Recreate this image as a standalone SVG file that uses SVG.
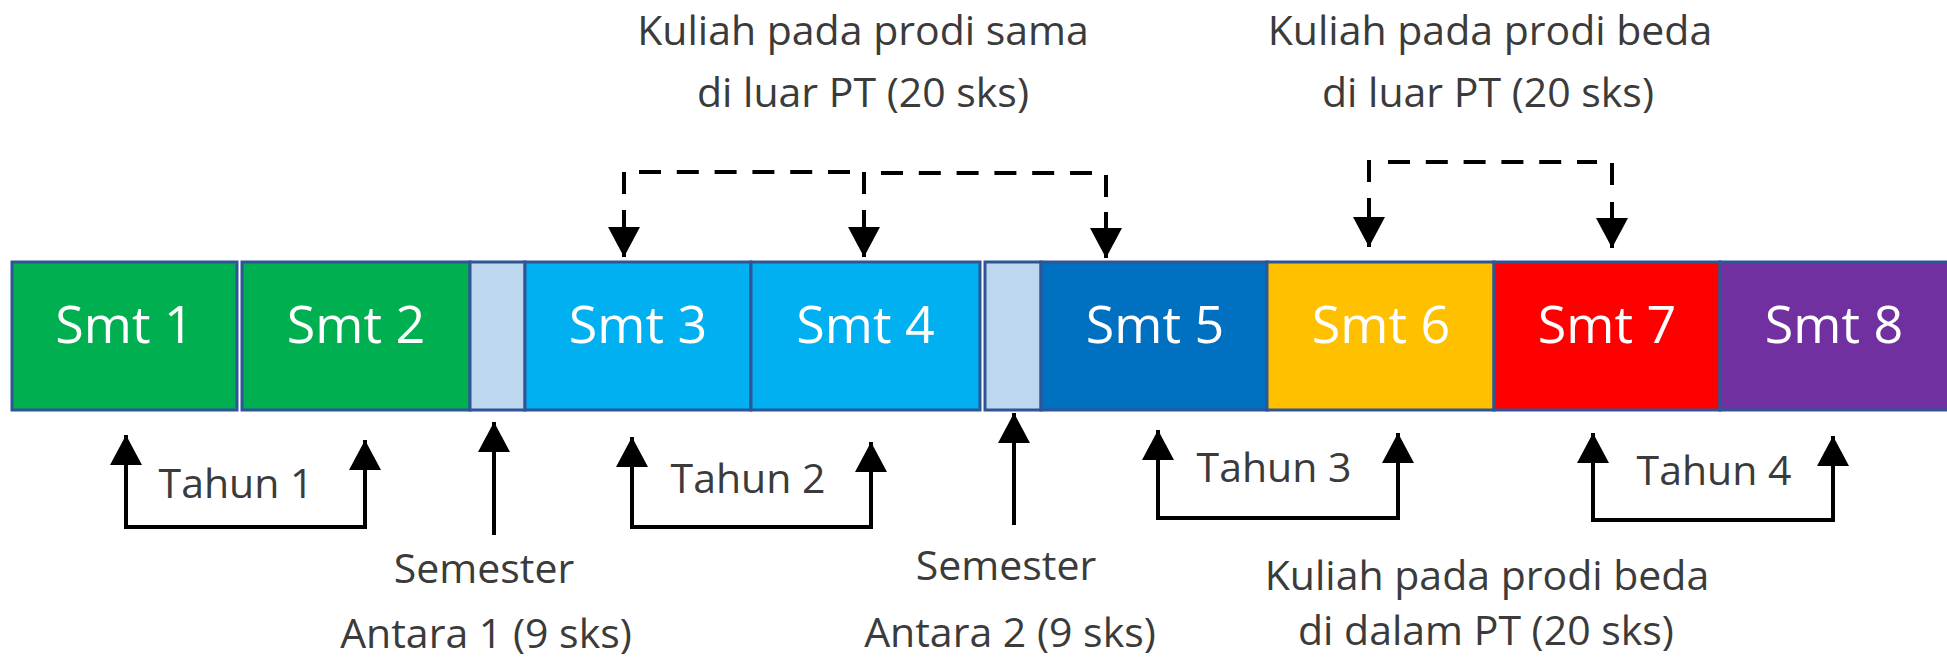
<svg xmlns="http://www.w3.org/2000/svg" width="1947" height="671" viewBox="0 0 1947 671">
<style>
.cell{stroke:#2F5597;stroke-width:3}
.smt{font-family:"Open Sans","Liberation Sans",sans-serif;font-size:52px;fill:#FFFFFF;text-anchor:middle}
.lbl{font-family:"Open Sans","Liberation Sans",sans-serif;font-size:41px;fill:#3B3B3B;text-anchor:middle}
.con{fill:none;stroke:#000;stroke-width:4}
.dash{fill:none;stroke:#000;stroke-width:4;stroke-dasharray:22 15.8}
</style>
<defs>
<marker id="ah" viewBox="0 0 30 32" markerWidth="30" markerHeight="32" refX="30" refY="16" orient="auto-start-reverse" markerUnits="userSpaceOnUse">
<path d="M0,0 L30,16 L0,32 z" fill="#000"/>
</marker>
</defs>
<rect width="1947" height="671" fill="#FFFFFF"/>

<g id="smt1"><rect class="cell" x="12" y="262" width="225" height="148" fill="#00B050"/><text class="smt" x="124.5" y="343">Smt 1</text></g>
<g id="smt2"><rect class="cell" x="242" y="262" width="228" height="148" fill="#00B050"/><text class="smt" x="356" y="343">Smt 2</text></g>
<g id="antara1"><rect class="cell" x="470" y="262" width="55" height="148" fill="#BDD7EE"/></g>
<g id="smt3"><rect class="cell" x="525" y="262" width="226" height="148" fill="#00B0F0"/><text class="smt" x="638" y="343">Smt 3</text></g>
<g id="smt4"><rect class="cell" x="751" y="262" width="229" height="148" fill="#00B0F0"/><text class="smt" x="865.5" y="343">Smt 4</text></g>
<g id="antara2"><rect class="cell" x="985" y="262" width="56" height="148" fill="#BDD7EE"/></g>
<g id="smt5"><rect class="cell" x="1041" y="262" width="226" height="148" fill="#0070C0"/><text class="smt" x="1155" y="343">Smt 5</text></g>
<g id="smt6"><rect class="cell" x="1267" y="262" width="227" height="148" fill="#FFC000"/><text class="smt" x="1381" y="343">Smt 6</text></g>
<g id="smt7"><rect class="cell" x="1494" y="262" width="226" height="148" fill="#FF0000"/><text class="smt" x="1607" y="343">Smt 7</text></g>
<g id="smt8"><rect class="cell" x="1720" y="262" width="240" height="148" fill="#7030A0"/><text class="smt" x="1834" y="343">Smt 8</text></g>

<g id="connectors">
<path class="dash" d="M639,172 H850"/>
<path class="dash" d="M881,173 H1092"/>
<path class="con" d="M624,172 V194"/>
<path class="con" d="M864,172 V194"/>
<path class="con" d="M1106,175 V197"/>
<path class="con" d="M624,210 V257" marker-end="url(#ah)"/>
<path class="con" d="M864,210 V257" marker-end="url(#ah)"/>
<path class="con" d="M1106,212 V258" marker-end="url(#ah)"/>
<path class="dash" d="M1388,162 H1597"/>
<path class="con" d="M1369,160 V182"/>
<path class="con" d="M1612,163 V185"/>
<path class="con" d="M1369,198 V247" marker-end="url(#ah)"/>
<path class="con" d="M1612,202 V248" marker-end="url(#ah)"/>

<path class="con" d="M126,435 V527 H365 V440" marker-start="url(#ah)" marker-end="url(#ah)"/>
<path class="con" d="M632,437 V527 H871 V442" marker-start="url(#ah)" marker-end="url(#ah)"/>
<path class="con" d="M1158,430 V518 H1398 V433" marker-start="url(#ah)" marker-end="url(#ah)"/>
<path class="con" d="M1593,433 V520 H1833 V436" marker-start="url(#ah)" marker-end="url(#ah)"/>
<path class="con" d="M494,535 V422" marker-end="url(#ah)"/>
<path class="con" d="M1014,525 V413" marker-end="url(#ah)"/>
</g>

<g id="labels">
<text class="lbl" x="863" y="45">Kuliah pada prodi sama</text>
<text class="lbl" x="863" y="107">di luar PT (20 sks)</text>
<text class="lbl" x="1490" y="45">Kuliah pada prodi beda</text>
<text class="lbl" x="1488" y="107">di luar PT (20 sks)</text>
<text class="lbl" x="236" y="498">Tahun 1</text>
<text class="lbl" x="748" y="493">Tahun 2</text>
<text class="lbl" x="1274" y="482">Tahun 3</text>
<text class="lbl" x="1714" y="485">Tahun 4</text>
<text class="lbl" x="484" y="583">Semester</text>
<text class="lbl" x="486" y="648">Antara 1 (9 sks)</text>
<text class="lbl" x="1006" y="580">Semester</text>
<text class="lbl" x="1010" y="647">Antara 2 (9 sks)</text>
<text class="lbl" x="1487" y="590">Kuliah pada prodi beda</text>
<text class="lbl" x="1486" y="645">di dalam PT (20 sks)</text>
</g>
</svg>
